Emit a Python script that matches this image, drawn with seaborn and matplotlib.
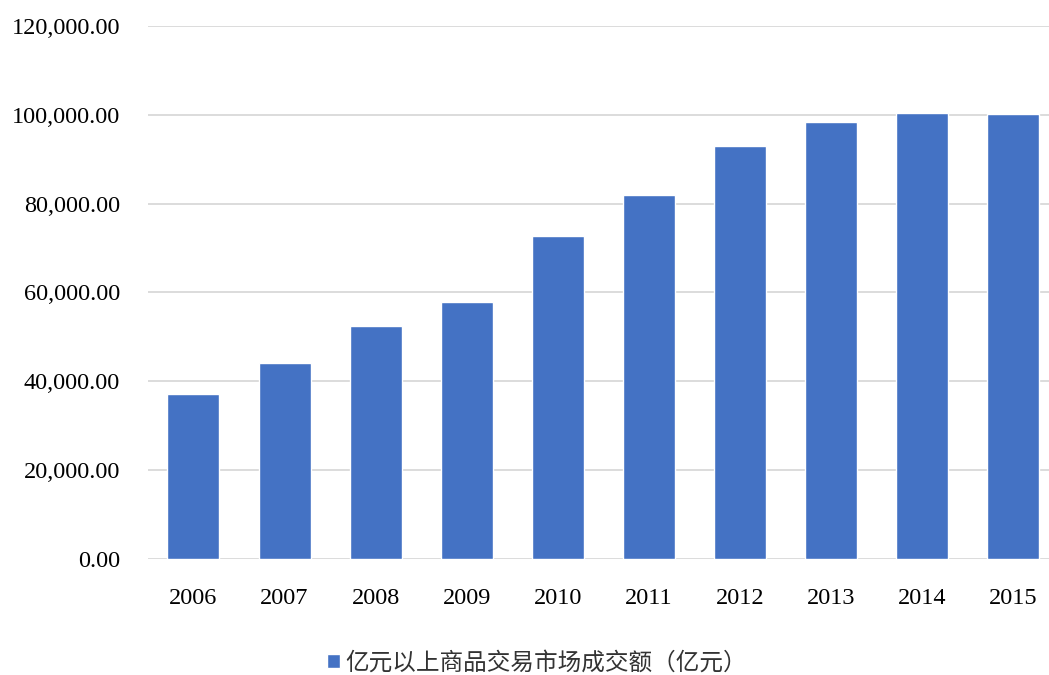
import matplotlib
matplotlib.use("Agg")
import matplotlib.pyplot as plt
import seaborn as sns
import pandas as pd
from matplotlib.ticker import FuncFormatter, MultipleLocator

years = ["2006", "2007", "2008", "2009", "2010", "2011", "2012", "2013", "2014", "2015"]
values = [37080, 44060, 52460, 57930, 72650, 81950, 92980, 98350, 100400, 100200]
series_name = "亿元以上商品交易市场成交额（亿元）"

sns.set_theme(style="white")
plt.rcParams['font.family'] = ['Liberation Serif', 'Noto Sans CJK SC', 'DejaVu Sans']

df = pd.DataFrame({"year": years, "value": values, "series": series_name})

fig = plt.figure(figsize=(10.49, 6.75), dpi=100)
ax = fig.add_axes([0.141, 0.172, 0.8685, 0.7895])

sns.barplot(data=df, x="year", y="value", hue="series", palette=["#4472C4"],
            width=0.57, ax=ax, saturation=1)

ax.set_xlim(-0.5, len(years) - 0.5)
ax.set_ylim(0, 120000)
ax.yaxis.set_major_locator(MultipleLocator(20000))
ax.yaxis.set_major_formatter(FuncFormatter(lambda v, p: f"{v:,.2f}"))
ax.grid(axis="y", color="#D9D9D9", linewidth=1.3)
ax.set_axisbelow(True)
for s in ax.spines.values():
    s.set_visible(False)
ax.set_xlabel("")
ax.set_ylabel("")
ax.tick_params(axis="both", length=0, labelsize=17.5, colors="#000000")
ax.tick_params(axis="x", pad=21)
ax.tick_params(axis="y", pad=20)

ax.legend_.remove()
handles, labels = ax.get_legend_handles_labels()
leg = fig.legend(handles, labels, loc="center", bbox_to_anchor=(0.512, 0.018),
                 bbox_transform=fig.transFigure, frameon=False,
                 fontsize=17, handlelength=0.55, handleheight=0.55, handletextpad=0.25,
                 borderpad=0, borderaxespad=0)
for t in leg.get_texts():
    t.set_family(['Noto Sans CJK SC', 'DejaVu Sans'])
    t.set_color("#333333")

fig.savefig("out.png", dpi=100)
